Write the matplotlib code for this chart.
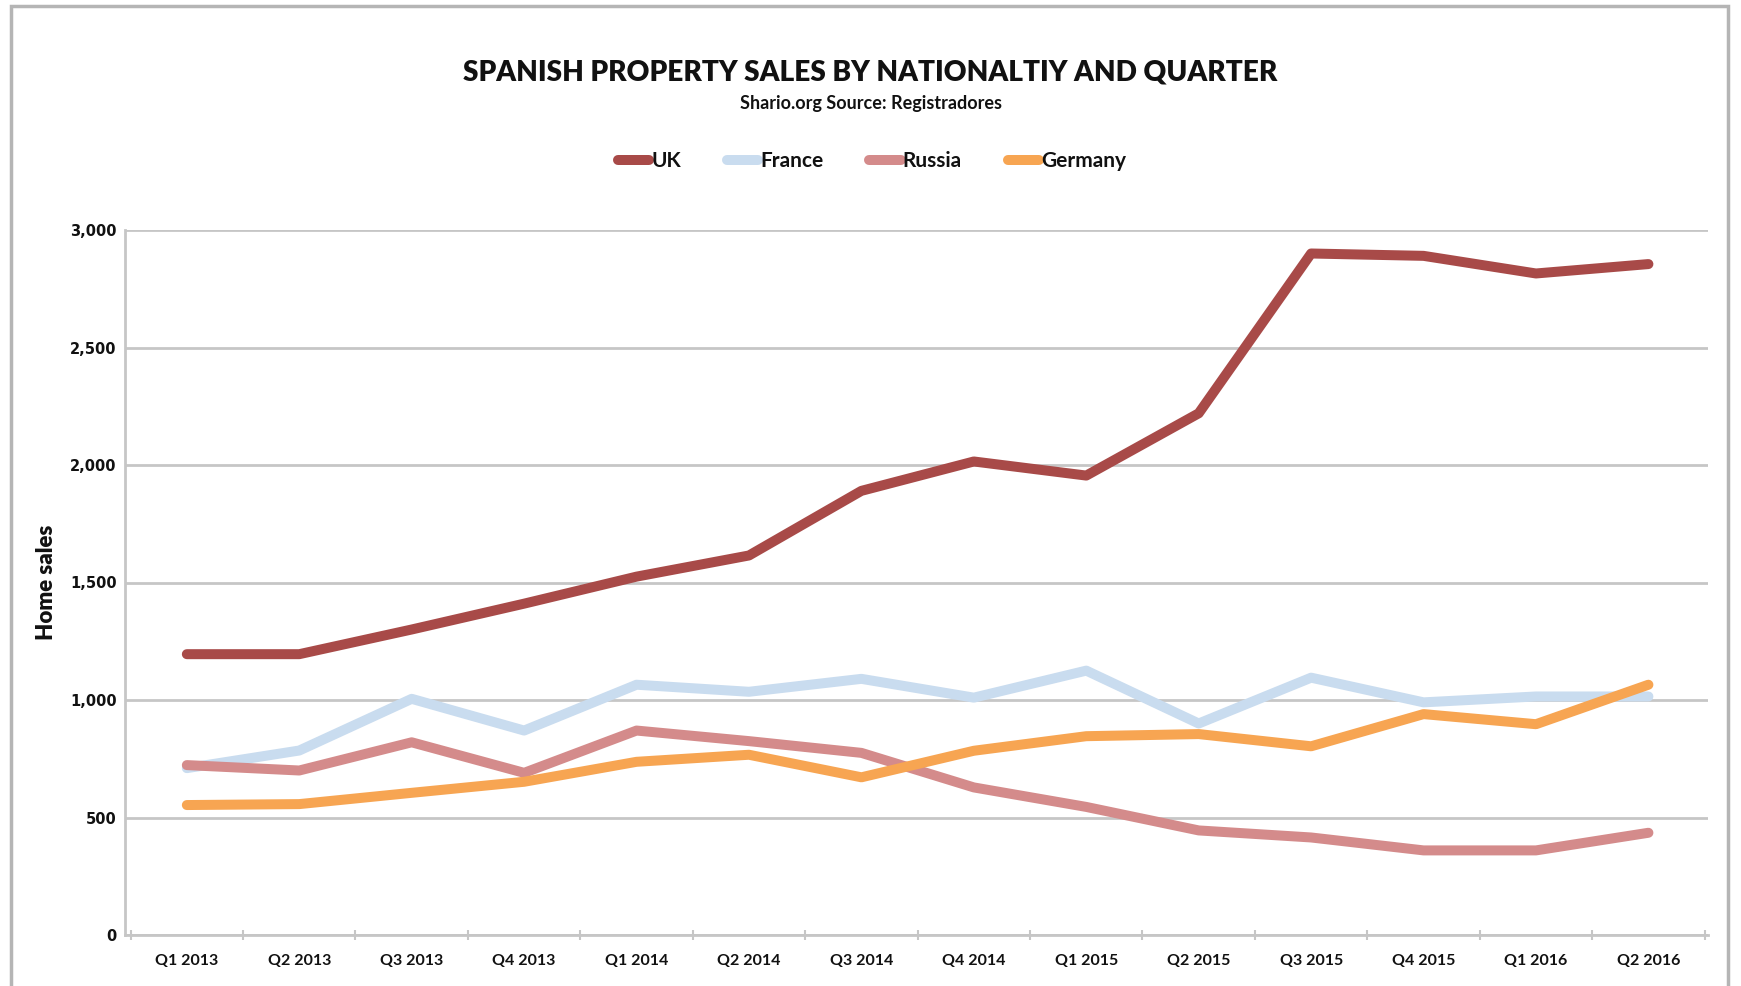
import matplotlib
matplotlib.use("Agg")
import matplotlib.pyplot as plt
from matplotlib.patches import Rectangle
from matplotlib.ticker import FuncFormatter, FixedLocator

# ── Data ──────────────────────────────────────────────────────────────────
quarters = [
    "Q1 2013", "Q2 2013", "Q3 2013", "Q4 2013",
    "Q1 2014", "Q2 2014", "Q3 2014", "Q4 2014",
    "Q1 2015", "Q2 2015", "Q3 2015", "Q4 2015",
    "Q1 2016", "Q2 2016",
]
uk = [1195, 1195, 1300, 1410, 1525, 1615, 1890, 2015, 1955, 2220, 2900, 2890, 2815, 2855]
france = [710, 785, 1005, 870, 1065, 1035, 1090, 1010, 1125, 900, 1095, 990, 1015, 1015]
russia = [723, 700, 820, 690, 870, 825, 775, 628, 545, 445, 415, 360, 360, 435]
germany = [553, 557, 605, 652, 737, 767, 671, 784, 846, 855, 803, 940, 897, 1065]

series = [("UK", uk, "#a84a48"), ("France", france, "#c9dcef"),
          ("Russia", russia, "#d48b8b"), ("Germany", germany, "#f7a552")]

TXT = "#111111"
GRID = "#c6c6c6"

fig = plt.figure(figsize=(17.41, 9.86), dpi=100)
fig.patch.set_facecolor("white")

# outer frame of the chart area
fig.patches.append(Rectangle((11 / 1741, -0.05), 1717 / 1741, 1.05 - 6 / 986,
                             transform=fig.transFigure, fill=False,
                             edgecolor="#b5b5b5", linewidth=2.5))

ax = fig.add_axes([125 / 1741, 1 - 935 / 986, (1708 - 125) / 1741, (935 - 230) / 986])

x = list(range(len(quarters)))
for name, vals, col in series:
    ax.plot(x, vals, color=col, linewidth=7.2, solid_capstyle="round",
            solid_joinstyle="round", label=name, zorder=3)

ax.set_xlim(-0.55, len(quarters) - 0.47)
ax.set_ylim(0, 3000)
ax.set_yticks(range(0, 3001, 500))
ax.yaxis.set_major_formatter(FuncFormatter(lambda v, p: f"{int(v):,}"))
ax.grid(axis="y", color=GRID, linewidth=2)
ax.set_axisbelow(True)

ax.set_xticks(x)
ax.set_xticklabels(quarters, fontfamily="Lato", fontweight="bold", fontsize=11.5, color=TXT)
ax.xaxis.set_minor_locator(FixedLocator([i - 0.5 for i in range(len(quarters) + 1)]))
ax.tick_params(axis="x", which="major", length=0, pad=14)
ax.tick_params(axis="x", which="minor", length=7, width=1.5, color=GRID, direction="inout")
ax.tick_params(axis="y", length=0, pad=6, labelsize=10.5, labelcolor=TXT)
for lab in ax.get_yticklabels():
    lab.set_fontweight("bold")
    lab.set_fontfamily("DejaVu Sans")

for s in ["top", "right"]:
    ax.spines[s].set_visible(False)
for s in ["left", "bottom"]:
    ax.spines[s].set_color(GRID)
    ax.spines[s].set_linewidth(2)

ax.set_ylabel("Home sales", fontfamily="Lato", fontweight="heavy", fontsize=16,
              color=TXT)
ax.yaxis.set_label_coords(-0.043, 0.5)

fig.text(0.5, 1 - 72 / 986, "SPANISH PROPERTY SALES BY NATIONALTIY AND QUARTER",
         ha="center", va="center", fontfamily="Lato", fontweight="heavy",
         fontsize=20.2, color=TXT)
fig.text(0.5, 1 - 104 / 986, "Shario.org Source: Registradores",
         ha="center", va="center", fontfamily="Lato", fontweight="bold",
         fontsize=13, color=TXT)

leg = fig.legend(loc="center", bbox_to_anchor=(872 / 1741, 1 - 161 / 986), ncol=4,
                 frameon=False, handlelength=1.5, handletextpad=0.1,
                 columnspacing=2.2, prop={"family": "Lato", "weight": "bold", "size": 15})
for t in leg.get_texts():
    t.set_color(TXT)

fig.savefig("out.png", dpi=100, facecolor="white")
